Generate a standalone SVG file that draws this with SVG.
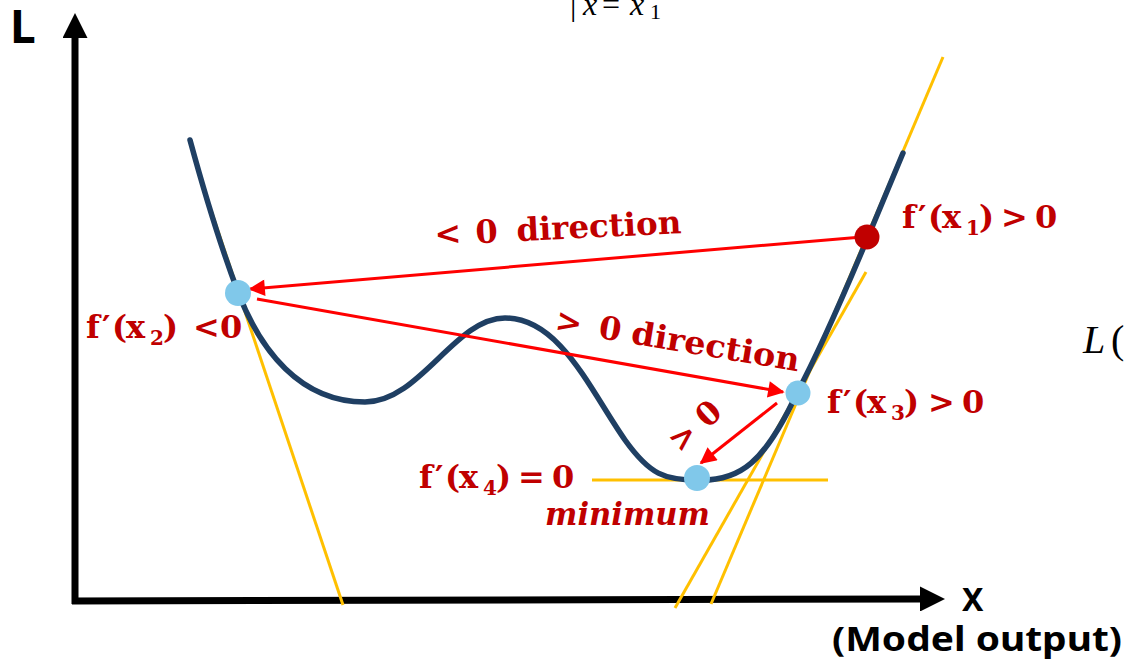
<svg xmlns="http://www.w3.org/2000/svg" width="1127" height="665" viewBox="0 0 1127 665">
<style>
.lab{font-family:"DejaVu Serif","Liberation Serif",serif;font-weight:bold;font-size:32px;fill:#C00000}
.sub{font-size:20px}
.ax{font-family:"Noto Sans","Liberation Sans",sans-serif;font-weight:bold;fill:#000}
.math{font-family:"Liberation Serif","DejaVu Serif",serif;fill:#000}
.tan{stroke:#FFC000;stroke-width:3;fill:none}
.arr{stroke:#FF0000;stroke-width:3;fill:none;marker-end:url(#ah)}
.pt{fill:#80C8EA}
</style>
<defs>
<marker id="ah" viewBox="0 0 10 10" refX="9" refY="5" markerWidth="6.5" markerHeight="5.5" markerUnits="strokeWidth" orient="auto"><path d="M0,0 L10,5 L0,10 z" fill="#FF0000"/></marker>
<marker id="axh" viewBox="0 0 25 25" refX="1" refY="12.5" markerWidth="25" markerHeight="25" markerUnits="userSpaceOnUse" orient="auto"><path d="M0,0 L25,12.5 L0,25 z" fill="#000"/></marker>
</defs>
<rect width="1127" height="665" fill="#fff"/>

<g id="axes">
<line x1="75" y1="604" x2="75" y2="37" stroke="#000" stroke-width="7" marker-end="url(#axh)"/>
<line x1="72" y1="601" x2="921" y2="599" stroke="#000" stroke-width="7" marker-end="url(#axh)"/>
<text class="ax" x="10" y="43" font-size="46">L</text>
<text class="ax" x="962" y="611" font-size="32">X</text>
<text class="ax" x="832" y="651" font-size="34" textLength="290" lengthAdjust="spacingAndGlyphs">(Model output)</text>
</g>

<g id="math-fragments">
<text class="math" y="15" font-size="32"><tspan x="570">|</tspan><tspan x="583" font-style="italic">x</tspan><tspan x="602">=</tspan><tspan x="630" font-style="italic">x</tspan><tspan x="650" y="19" font-size="22">1</tspan></text>
<text class="math" y="353" font-size="40"><tspan x="1083" font-style="italic">L</tspan><tspan x="1111">(</tspan></text>
</g>

<g id="tangents">
<line class="tan" x1="211" y1="210" x2="343" y2="605"/>
<line class="tan" x1="943" y1="57" x2="711" y2="604"/>
<line class="tan" x1="866" y1="272" x2="675" y2="608"/>
<line class="tan" x1="592" y1="480" x2="828" y2="480"/>
</g>

<g id="loss-curve">
<path d="M190,140 C205,195 222,250 238,292 C260,350 300,402 365,402 C420,402 455,318 505,318 C560,318 590,390 625,440 C650,475 665,480 697,480 C740,482 765,462 797,393 C820,350 850,280 868,237 C880,208 892,180 903,153" fill="none" stroke="#1F3F63" stroke-width="5.5" stroke-linecap="round"/>
</g>

<g id="connectors">
<line class="arr" x1="862" y1="237" x2="250" y2="289"/>
<line class="arr" x1="257" y1="299" x2="783" y2="392"/>
<line class="arr" x1="777" y1="403" x2="701" y2="463"/>
<g transform="translate(438,245) rotate(-2.8)">
<text class="lab" x="-3">&lt;</text>
<text class="lab" x="38">0</text>
<text class="lab" x="79" textLength="165" lengthAdjust="spacingAndGlyphs">direction</text>
</g>
<g transform="translate(557,331) rotate(9.5)">
<text class="lab" x="-3">&gt;</text>
<text class="lab" x="41">0</text>
<text class="lab" x="74" textLength="170" lengthAdjust="spacingAndGlyphs">direction</text>
</g>
<g transform="translate(680,454) rotate(-42)">
<text class="lab" x="0">&gt;</text>
<text class="lab" x="37">0</text>
</g>
</g>

<g id="node-x1">
<circle cx="867" cy="237" r="12.5" fill="#C00000"/>
<text class="lab" y="228"><tspan x="902">f</tspan><tspan x="918">′</tspan><tspan x="928">(</tspan><tspan x="942">x</tspan><tspan class="sub" x="966" y="235">1</tspan><tspan x="979" y="228">)</tspan><tspan x="1001">&gt;</tspan><tspan x="1035">0</tspan></text>
</g>

<g id="node-x2">
<circle class="pt" cx="238" cy="293" r="13"/>
<text class="lab" y="338"><tspan x="86">f</tspan><tspan x="102">′</tspan><tspan x="112">(</tspan><tspan x="126">x</tspan><tspan class="sub" x="150" y="345">2</tspan><tspan x="163" y="338">)</tspan><tspan x="193">&lt;</tspan><tspan x="220">0</tspan></text>
</g>

<g id="node-x3">
<circle class="pt" cx="798" cy="393" r="12.5"/>
<text class="lab" y="413"><tspan x="827">f</tspan><tspan x="843">′</tspan><tspan x="853">(</tspan><tspan x="867">x</tspan><tspan class="sub" x="891" y="420">3</tspan><tspan x="904" y="413">)</tspan><tspan x="928">&gt;</tspan><tspan x="962">0</tspan></text>
</g>

<g id="node-x4">
<circle class="pt" cx="697" cy="478" r="13"/>
<text class="lab" y="488"><tspan x="419">f</tspan><tspan x="435">′</tspan><tspan x="445">(</tspan><tspan x="459">x</tspan><tspan class="sub" x="483" y="495">4</tspan><tspan x="496" y="488">)</tspan><tspan x="518">=</tspan><tspan x="552">0</tspan></text>
<text class="lab" x="545" y="525" font-size="30" font-style="italic" textLength="165" lengthAdjust="spacingAndGlyphs">minimum</text>
</g>
</svg>
